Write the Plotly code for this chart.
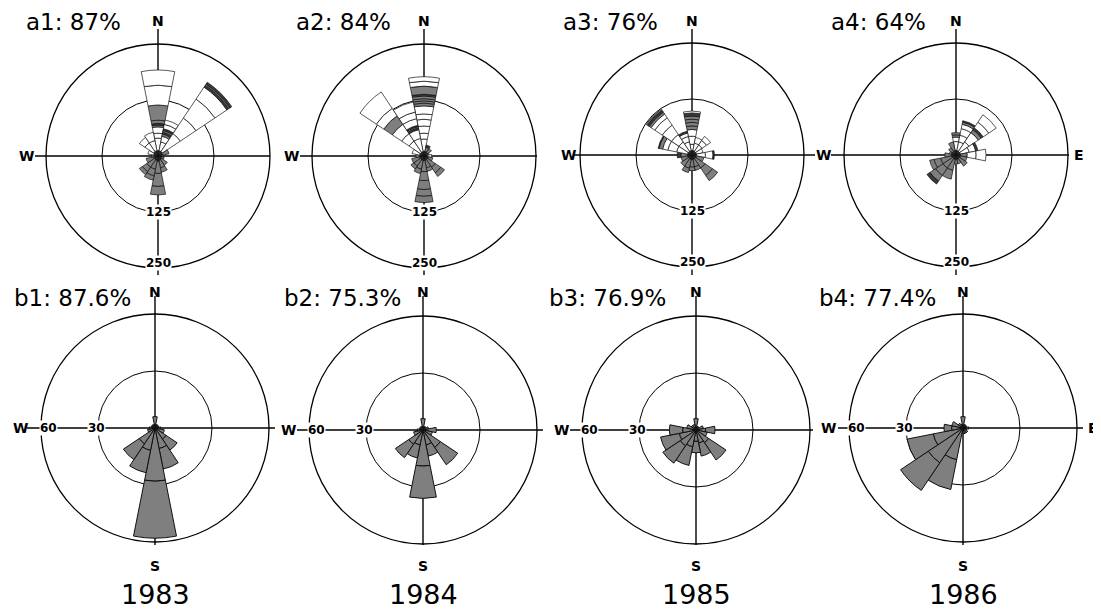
import plotly.graph_objects as go

# ---------------- data ----------------
DIRECTIONS = [0, 22.5, 45, 67.5, 90, 112.5, 135, 157.5,
              180, 202.5, 225, 247.5, 270, 292.5, 315, 337.5]

TOP_TITLES = ["a1: 87%", "a2: 84%", "a3: 76%", "a4: 64%"]
BOTTOM_TITLES = ["b1: 87.6%", "b2: 75.3%", "b3: 76.9%", "b4: 77.4%"]
YEARS = ["1983", "1984", "1985", "1986"]
TOP_RANGE = 250
TOP_TICKS = [125, 250]
BOTTOM_RANGE = 60
BOTTOM_TICKS = [30, 60]

# top row: stacked segment lengths per direction (inner -> outer) and fill codes
A1_SEG = [[12, 28, 11, 14, 4, 4, 7, 34, 44, 34], [12, 20, 13, 5, 4, 4, 4, 10, 10],
          [12, 48, 42, 51, 32, 5, 3, 5], [10, 15], [8, 4], [8, 6], [10, 15], [10, 17, 10],
          [12, 27, 29, 19], [10, 20, 15, 10], [10, 20, 12, 8], [10, 17], [8, 6], [10, 13],
          [12, 23, 15], [12, 23, 19]]
A1_FILL = ["dwwwgdggww", "dwwgdgdww", "dwwwwdgd", "dg", "dg", "dg", "dg", "dgg",
           "dggg", "dggg", "dggg", "dg", "dg", "dw", "dww", "dww"]

A2_SEG = [[10, 28, 13, 16, 15, 12, 18, 6, 5, 5, 6, 4, 18, 11, 10], [10, 10, 5], [10, 10],
          [8, 4], [8, 9], [10, 10], [10, 20, 15, 10], [10, 17, 8], [10, 25, 20, 20, 15, 14],
          [10, 20, 10], [10, 17, 8], [10, 18], [10, 8], [10, 17],
          [10, 30, 20, 25, 23, 20, 44], [10, 30, 20, 4, 3, 3, 15, 15, 23]]
A2_FILL = ["dwwwwwwggggdgww", "dgd", "dg", "dg", "dw", "dg", "dggg", "dgg", "dggggg",
           "dgg", "dgg", "dg", "dg", "dw", "dwwwgww", "dwwdgdwww"]

A3_SEG = [[10, 14, 18, 15, 8, 8, 7, 7, 7, 4], [10, 17, 13], [10, 17, 12, 11], [10, 15],
          [10, 20, 17, 3], [10, 17], [10, 25, 20, 14], [10, 17, 8], [10, 17, 8],
          [10, 20, 10], [10, 20], [10, 15], [10, 15, 8], [10, 25, 20, 12, 8, 2],
          [10, 25, 20, 25, 20, 10, 5, 5, 3], [10, 20, 12, 8, 4]]
A3_FILL = ["dwwwggggdw", "dww", "dwww", "dw", "dwwd", "dg", "dggg", "dgg", "dgg",
           "dgg", "dg", "dg", "dgd", "dwwwgd", "dwwwwwgdg", "dwwwd"]

A4_SEG = [[10, 20, 10, 5, 5], [10, 20, 15, 15, 10, 5, 3], [10, 25, 25, 8, 5, 15, 20],
          [10, 20, 15, 5], [10, 15, 20, 22], [10, 15], [10, 20], [10, 10], [10, 10],
          [10, 25, 20], [10, 25, 20, 15, 8], [10, 25, 15, 10], [10, 15], [10, 5],
          [10, 10], [10, 20]]
A4_FILL = ["dwwgg", "dwwwwgd", "dwwgdww", "dwwd", "dgww", "dg", "dg", "dg", "dg",
           "dgg", "dgggd", "dggg", "dg", "dg", "dg", "dg"]

# bottom row: stacked segment lengths per direction (all grey)
B1_SEG = [[6], [2], [2], [2], [3], [5], [7, 7], [11, 11], [28, 30], [12, 12], [10, 10],
          [4], [3], [2], [2], [2]]
B2_SEG = [[6], [2], [2], [3], [7], [5], [11, 11], [8, 6], [19, 17], [8, 7], [9, 8.5],
          [5], [3], [2], [2], [2]]
B3_SEG = [[6], [2], [2], [4], [5, 5], [6], [8, 11], [7, 7], [6, 6], [9, 10], [10, 11],
          [9, 10], [7, 7], [5], [3], [3]]
B4_SEG = [[6], [2], [2], [2], [3], [2], [3], [3], [3], [17, 16], [22, 17.5], [16, 14],
          [6, 4], [6], [3], [2]]

# ---------------- layout geometry (screen pixels) ----------------
SCREEN_W, SCREEN_H = 1101, 612
OFF = 8                       # page body margin of the html page
W, H = SCREEN_W - OFF, SCREEN_H - OFF
TOP_CENTERS = [(158, 156), (424, 156), (692, 155), (956, 155)]
TOP_R = 112
BOT_CENTERS = [(155, 428), (423, 430), (696, 430), (963, 428)]
BOT_R = 114
TOP_TITLE_X = [25, 295, 562, 830]
BOT_TITLE_X = [13, 283, 548, 818]
TOP_W_X = [26, 291, 568, 823]
BOT_W_X = [20, 288, 561, 828]
TOP_HLINE = [(35, 270), (300, 537), (574, 815), (831, 1069)]
BOT_HLINE = [(27, 275), (297, 543), (570, 813), (838, 1083)]

FILLS = {"w": "#ffffff", "g": "#7f7f7f", "d": "#3a3a3a"}
FONT = "DejaVu Sans, Verdana, sans-serif"


def px(x, y):
    return (x - OFF) / W, 1 - (y - OFF) / H


fig = go.Figure()


def add_rose(segs, fills, name, line_w):
    r, theta, base, colors = [], [], [], []
    for d, lens, codes in zip(DIRECTIONS, segs, fills):
        b = 0
        for L, c in zip(lens, codes):
            r.append(L)
            theta.append(d)
            base.append(b)
            colors.append(FILLS[c])
            b += L
    fig.add_trace(go.Barpolar(
        r=r, theta=theta, base=base, width=[22.5] * len(r),
        marker=dict(color=colors, line=dict(color="#111111", width=line_w)),
        subplot=name, showlegend=False, hoverinfo="skip"))


def polar_layout(cx, cy, R, rng, tick):
    x0, y1 = px(cx - R, cy - R)
    x1, y0 = px(cx + R, cy + R)
    return dict(
        domain=dict(x=[x0, x1], y=[y0, y1]),
        bgcolor="rgba(0,0,0,0)", hole=0, barmode="overlay",
        radialaxis=dict(range=[0, rng], tickvals=[tick], showticklabels=False,
                        ticks="", showline=False, gridcolor="black", gridwidth=1.2,
                        layer="below traces"),
        angularaxis=dict(rotation=90, direction="clockwise", showgrid=False,
                         showticklabels=False, ticks="", showline=True,
                         linecolor="black", linewidth=1.3, layer="below traces"),
    )


layout_polars = {}
shapes = []
annotations = []


def label(x, y, text, size, bold=False, bg=None, xanchor="center", yanchor="middle"):
    ax, ay = px(x, y)
    annotations.append(dict(
        x=ax, y=ay, xref="paper", yref="paper", text=("<b>%s</b>" % text) if bold else text,
        showarrow=False, xanchor=xanchor, yanchor=yanchor,
        font=dict(family=FONT, size=size, color="black"),
        bgcolor=bg, borderpad=0))


def line(x0, y0, x1, y1):
    a0, b0 = px(x0, y0)
    a1, b1 = px(x1, y1)
    shapes.append(dict(type="line", xref="paper", yref="paper", x0=a0, y0=b0, x1=a1, y1=b1,
                       line=dict(color="black", width=1.4), layer="below"))


top_data = [(A1_SEG, A1_FILL), (A2_SEG, A2_FILL), (A3_SEG, A3_FILL), (A4_SEG, A4_FILL)]
bot_data = [B1_SEG, B2_SEG, B3_SEG, B4_SEG]

idx = 1
for i, (segs, fills) in enumerate(top_data):
    name = "polar" if idx == 1 else "polar%d" % idx
    cx, cy = TOP_CENTERS[i]
    add_rose(segs, fills, name, 0.7)
    layout_polars[name] = polar_layout(cx, cy, TOP_R, TOP_RANGE, TOP_TICKS[0])
    line(TOP_HLINE[i][0], cy, TOP_HLINE[i][1], cy)
    line(cx, 29, cx, 275)
    label(TOP_TITLE_X[i], 22, TOP_TITLES[i], 23, xanchor="left")
    label(cx, 21, "N", 14, bold=True)
    label(TOP_W_X[i], cy, "W", 14, bold=True)
    label(cx, cy + TOP_R * TOP_TICKS[0] / TOP_RANGE, str(TOP_TICKS[0]), 12, bold=True, bg="white")
    label(cx, cy + 107, str(TOP_TICKS[1]), 12, bold=True, bg="white")
    idx += 1

for i, segs in enumerate(bot_data):
    name = "polar%d" % idx
    cx, cy = BOT_CENTERS[i]
    add_rose(segs, ["g" * len(s) for s in segs], name, 1.0)
    layout_polars[name] = polar_layout(cx, cy, BOT_R, BOTTOM_RANGE, BOTTOM_TICKS[0])
    line(BOT_HLINE[i][0], cy, BOT_HLINE[i][1], cy)
    line(cx, 296, cx, 545)
    label(BOT_TITLE_X[i], 298, BOTTOM_TITLES[i], 23, xanchor="left")
    label(cx, 292, "N", 14, bold=True)
    label(cx, 566, "S", 14, bold=True)
    label(BOT_W_X[i], cy, "W", 14, bold=True)
    label(cx - 107, cy, str(BOTTOM_TICKS[1]), 12, bold=True, bg="white")
    label(cx - 59, cy, str(BOTTOM_TICKS[0]), 12, bold=True, bg="white")
    label(cx, 611, YEARS[i], 27, yanchor="bottom")
    idx += 1

# east labels on the last column
label(1079, TOP_CENTERS[3][1], "E", 14, bold=True)
label(1099, BOT_CENTERS[3][1], "E", 14, bold=True, xanchor="right")

fig.update_layout(
    width=W, height=H, margin=dict(l=0, r=0, t=0, b=0),
    paper_bgcolor="white", plot_bgcolor="white",
    shapes=shapes, annotations=annotations, showlegend=False,
    **layout_polars)

fig.write_html("out.html")
